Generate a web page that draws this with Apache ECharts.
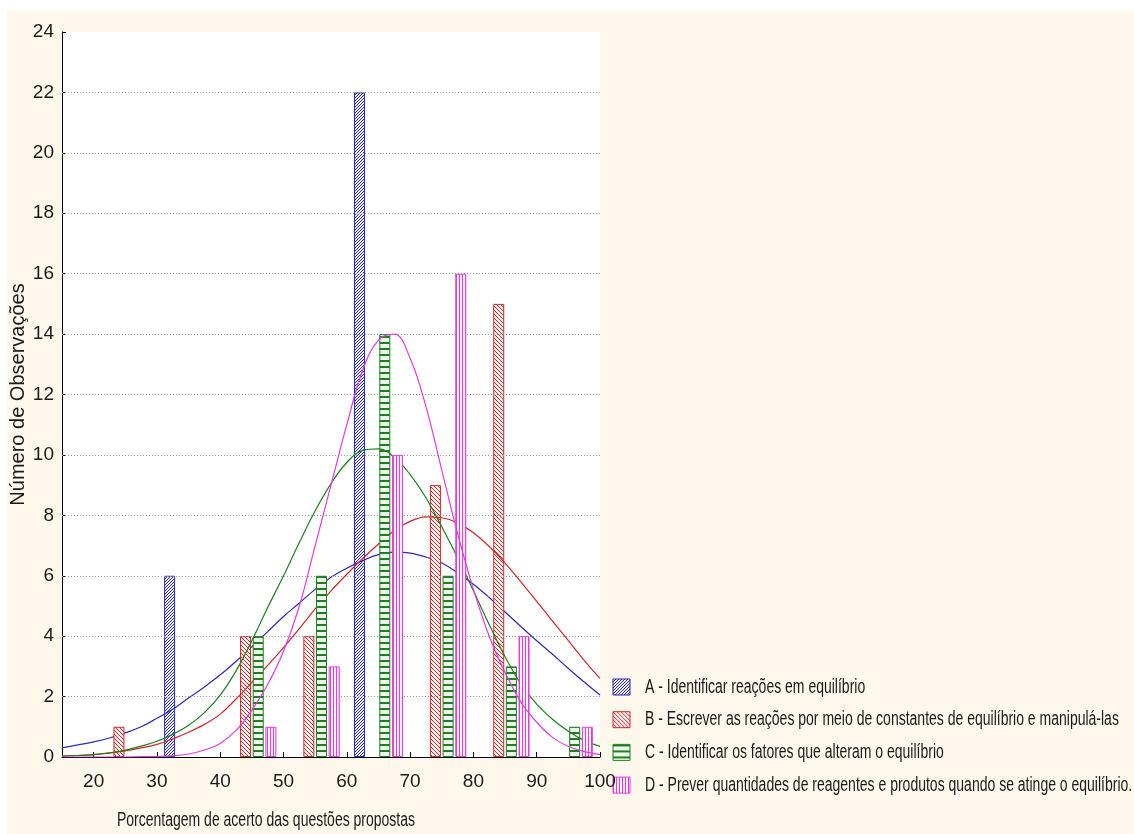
<!DOCTYPE html>
<html>
<head>
<meta charset="utf-8">
<script src="https://cdn.jsdelivr.net/npm/echarts@6/dist/echarts.min.js"></script>
<style>
html,body{margin:0;padding:0;background:#fff;}
#chart{width:1134px;height:834px;}
</style>
</head>
<body>
<div id="chart"></div>
<script>
// ---- data ----
const seriesNames = [
  'A - Identificar reações em equilíbrio',
  'B - Escrever as reações por meio de constantes de equilíbrio e manipulá-las',
  'C - Identificar os fatores que alteram o equilíbrio',
  'D - Prever quantidades de reagentes e produtos quando se atinge o equilíbrio.'
];
const aX = [32, 62];                 const aY = [6, 22];
const bX = [24, 44, 54, 74, 84];     const bY = [1, 4, 4, 9, 15];
const cX = [46, 56, 66, 76, 86, 96]; const cY = [4, 6, 14, 6, 3, 1];
const dX = [48, 58, 68, 78, 88, 98]; const dY = [1, 3, 10, 16, 4, 1];

const curveX = [15, 17.5, 20, 22.5, 25, 27.5, 30, 32.5, 35, 37.5, 40, 42.5, 45, 47.5, 50, 52.5, 55, 57.5,
                60, 62.5, 65, 67.5, 70, 72.5, 75, 77.5, 80, 82.5, 85, 87.5, 90, 92.5, 95, 97.5, 100];
const curveA = [0.3, 0.4, 0.5, 0.63, 0.8, 1.0, 1.28, 1.58, 1.95, 2.32, 2.72, 3.17, 3.65, 4.15, 4.65, 5.1, 5.55, 5.95,
                6.25, 6.5, 6.7, 6.78, 6.75, 6.62, 6.42, 6.1, 5.72, 5.28, 4.8, 4.32, 3.85, 3.4, 2.93, 2.48, 2.05];
const curveB = [0.03, 0.05, 0.08, 0.13, 0.2, 0.3, 0.42, 0.6, 0.82, 1.08, 1.42, 1.92, 2.47, 3.03, 3.62, 4.25, 4.9, 5.5,
                6.05, 6.57, 7.05, 7.5, 7.8, 7.95, 7.92, 7.75, 7.42, 6.97, 6.42, 5.8, 5.15, 4.5, 3.85, 3.2, 2.6];
const curveC = [0.03, 0.05, 0.08, 0.14, 0.23, 0.36, 0.52, 0.75, 1.05, 1.47, 2.05, 2.85, 3.85, 4.95, 6.0, 7.1, 8.15, 9.05,
                9.75, 10.15, 10.2, 9.92, 9.35, 8.58, 7.62, 6.6, 5.5, 4.38, 3.32, 2.42, 1.75, 1.25, 0.85, 0.55, 0.35];
const curveD = [0, 0, 0, 0, 0, 0.01, 0.02, 0.04, 0.1, 0.23, 0.45, 0.88, 1.55, 2.4, 3.5, 5.0, 7.0, 9.0,
                11.0, 12.8, 13.8, 14.0, 13.2, 11.6, 9.5, 7.4, 5.55, 4.0, 2.8, 1.82, 1.15, 0.65, 0.35, 0.18, 0.08];

const xTicks = [20, 30, 40, 50, 60, 70, 80, 90, 100];
const yGrid = [2, 4, 6, 8, 10, 12, 14, 16, 18, 20, 22];

// ---- styles ----
const colors = ['#2B2BB0', '#D02828', '#1F7F1F', '#E03CE0'];
const sans = "'Liberation Sans', Arial, sans-serif";

function hatch(kind, color, bg) {
  const c = document.createElement('canvas');
  let w = 4, h = 4;
  if (kind === 'h') { w = 6; h = 6; }
  if (kind === 'v') { w = 3; h = 3; }
  if (kind === '/') { w = 3; h = 3; }
  c.width = w; c.height = h;
  const g = c.getContext('2d');
  g.fillStyle = bg; g.fillRect(0, 0, w, h);
  g.fillStyle = color;
  if (kind === '/') for (let i = 0; i < w; i++) g.fillRect(i, h - 1 - i, 1, 1);
  if (kind === '\\') for (let i = 0; i < w; i++) g.fillRect(i, i, 1, 1);
  if (kind === 'h') g.fillRect(0, 0, w, 2);
  if (kind === 'v') g.fillRect(0, 0, 1, h);
  return { image: c, repeat: 'repeat' };
}
const fills = [
  hatch('/', colors[0], '#eef0ff'),
  hatch('\\', colors[1], '#fff2f0'),
  hatch('h', colors[2], '#eef8ee'),
  hatch('v', colors[3], '#fdf0fd')
];

const pairs = (xs, ys) => xs.map((x, i) => [x, ys[i]]);
const barData = [pairs(aX, aY), pairs(bX, bY), pairs(cX, cY), pairs(dX, dY)];
const curveData = [curveA, curveB, curveC, curveD].map(c => pairs(curveX, c));

const series = [{
  type: 'line', data: [], z: 1, silent: true,
  markLine: {
    silent: true, symbol: ['none', 'none'], label: { show: false },
    lineStyle: { color: '#9a9a9a', type: [1, 2], width: 1 },
    data: yGrid.map(v => ({ yAxis: v }))
  }
}];
for (let i = 0; i < 4; i++) {
  series.push({
    name: seriesNames[i], type: 'bar', data: barData[i],
    barWidth: 11, barGap: '-100%', z: 2 + i * 2,
    itemStyle: { color: fills[i], borderColor: colors[i], borderWidth: 1 }
  });
  series.push({
    name: 'fit' + i, type: 'line', data: curveData[i], smooth: 0.4,
    showSymbol: false, z: 3 + i * 2, silent: true,
    lineStyle: { color: colors[i], width: 1.2 }, itemStyle: { color: colors[i] }
  });
}

// legend drawn as graphic (narrow text, like the original condensed font)
const legendItems = seriesNames.map((name, i) => ({
  type: 'group', x: 613, y: 679 + i * 32.7,
  children: [
    { type: 'rect', shape: { x: 0, y: 0, width: 17, height: 16 },
      style: { fill: fills[i], stroke: colors[i], lineWidth: 1 } },
    { type: 'text', x: 32, y: 8, scaleX: 0.7,
      style: { text: name, font: '20px ' + sans, fill: '#1a1a1a', verticalAlign: 'middle' } }
  ]
}));

const chart = echarts.init(document.getElementById('chart'));
chart.setOption({
  animation: false,
  backgroundColor: '#FDF8EB',
  grid: { left: 62, right: 534, top: 32, bottom: 77, show: true, backgroundColor: '#ffffff', borderWidth: 0 },
  xAxis: {
    type: 'value', min: 15, max: 100,
    axisLine: { show: true, lineStyle: { color: '#000', width: 1 } },
    axisTick: { show: true, inside: true, length: 5, customValues: xTicks, lineStyle: { color: '#000' } },
    axisLabel: { customValues: xTicks, color: '#1a1a1a', fontFamily: sans, fontSize: 19, margin: 15 },
    splitLine: { show: false }
  },
  yAxis: {
    type: 'value', min: 0, max: 24, interval: 2,
    axisLine: { show: true, lineStyle: { color: '#000', width: 1 } },
    axisTick: { show: true, inside: true, length: 4, lineStyle: { color: '#000' } },
    axisLabel: { color: '#1a1a1a', fontFamily: sans, fontSize: 19, margin: 8 },
    splitLine: { show: false },
    name: 'Número de Observações', nameLocation: 'middle', nameGap: 23, nameRotate: 90,
    nameTextStyle: { fontFamily: sans, fontSize: 20, color: '#1a1a1a' }
  },
  graphic: [
    { type: 'rect', shape: { x: 0, y: 0, width: 1134, height: 10 }, style: { fill: '#fff' }, silent: true },
    { type: 'rect', shape: { x: 0, y: 0, width: 7, height: 834 }, style: { fill: '#fff' }, silent: true },
    { type: 'text', x: 266, y: 820, scaleX: 0.7,
      style: { text: 'Porcentagem de acerto das questões propostas', font: '20px ' + sans, fill: '#1a1a1a',
               align: 'center', verticalAlign: 'middle' } }
  ].concat(legendItems),
  series: series
});
</script>
</body>
</html>
